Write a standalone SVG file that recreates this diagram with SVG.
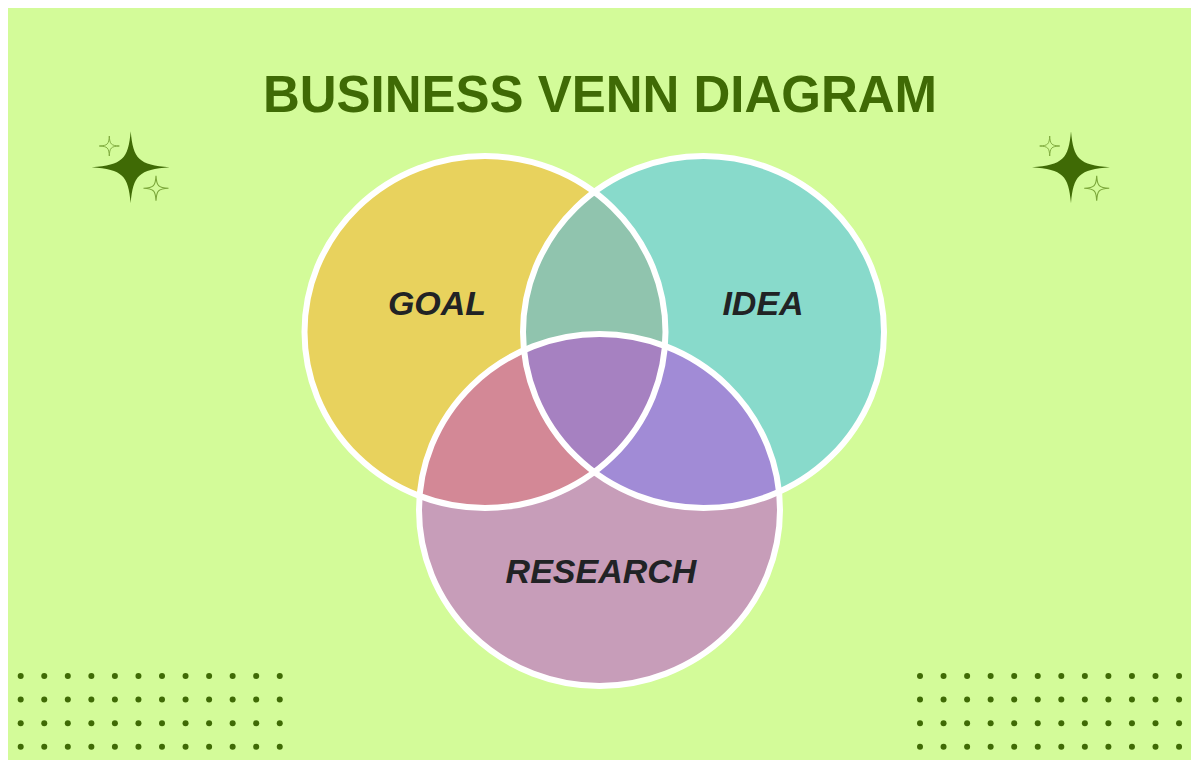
<svg xmlns="http://www.w3.org/2000/svg" width="1200" height="768" viewBox="0 0 1200 768">
  <style>
    .title { font-family: "Liberation Sans", Arial, sans-serif; font-weight: bold; font-size: 52px; fill: #3F6A05; }
    .label { font-family: "Liberation Sans", Arial, sans-serif; font-weight: bold; font-style: italic; font-size: 34px; fill: #212325; }
    .ring { fill: none; stroke: #FFFFFF; stroke-width: 6; }
    .dot { fill: #3F6A05; }
    .bigstar { fill: #3F6A05; }
    .smallstar { fill: #D3FB99; stroke: #7BA63A; stroke-width: 0.9; }
  </style>
  <defs>
    <ellipse id="eGoal" cx="485" cy="332" rx="180.5" ry="176"/>
    <ellipse id="eIdea" cx="703.5" cy="332" rx="180.5" ry="176"/>
    <ellipse id="eResearch" cx="599.5" cy="510" rx="180.5" ry="176"/>
    <clipPath id="cGoal"><use href="#eGoal"/></clipPath>
    <clipPath id="cIdea"><use href="#eIdea"/></clipPath>
    <path id="star4" d="M0,-36 C2.5,-8 8,-2.5 39,0 C8,2.5 2.5,8 0,36 C-2.5,8 -8,2.5 -39,0 C-8,-2.5 -2.5,-8 0,-36 Z"/>
    <path id="star4s" d="M0,-10 C0.4,-1.8 1.8,-0.4 10,0 C1.8,0.4 0.4,1.8 0,10 C-0.4,1.8 -1.8,0.4 -10,0 C-1.8,-0.4 -0.4,-1.8 0,-10 Z"/>
    <g id="dotrow">
      <circle class="dot" cx="0" cy="0" r="3"/>
      <circle class="dot" cx="23.55" cy="0" r="3"/>
      <circle class="dot" cx="47.1" cy="0" r="3"/>
      <circle class="dot" cx="70.65" cy="0" r="3"/>
      <circle class="dot" cx="94.2" cy="0" r="3"/>
      <circle class="dot" cx="117.75" cy="0" r="3"/>
      <circle class="dot" cx="141.3" cy="0" r="3"/>
      <circle class="dot" cx="164.85" cy="0" r="3"/>
      <circle class="dot" cx="188.4" cy="0" r="3"/>
      <circle class="dot" cx="211.95" cy="0" r="3"/>
      <circle class="dot" cx="235.5" cy="0" r="3"/>
      <circle class="dot" cx="259.05" cy="0" r="3"/>
    </g>
    <g id="dotgrid">
      <use href="#dotrow" y="0"/>
      <use href="#dotrow" y="23.6"/>
      <use href="#dotrow" y="47.2"/>
      <use href="#dotrow" y="70.8"/>
    </g>
  </defs>

  <rect x="0" y="0" width="1200" height="768" fill="#FFFFFF"/>
  <rect x="8" y="8" width="1183" height="752" fill="#D3FB99"/>

  <text class="title" x="600" y="112" text-anchor="middle" textLength="674" lengthAdjust="spacingAndGlyphs">BUSINESS VENN DIAGRAM</text>

  <g id="stars-left">
    <use href="#star4" class="bigstar" transform="translate(130.7,167.3)"/>
    <use href="#star4s" class="smallstar" transform="translate(109.3,146)"/>
    <use href="#star4s" class="smallstar" transform="translate(156,188.3) scale(1.25)"/>
  </g>
  <g id="stars-right">
    <use href="#star4" class="bigstar" transform="translate(1071,167.3)"/>
    <use href="#star4s" class="smallstar" transform="translate(1049.7,146)"/>
    <use href="#star4s" class="smallstar" transform="translate(1096.7,188.3) scale(1.25)"/>
  </g>

  <g id="dots-left"><use href="#dotgrid" x="20.7" y="676"/></g>
  <g id="dots-right"><use href="#dotgrid" x="920" y="676"/></g>

  <g id="goal">
    <use href="#eGoal" fill="#E8D25D"/>
  </g>
  <g id="idea">
    <use href="#eIdea" fill="#88DACB"/>
  </g>
  <g id="research">
    <use href="#eResearch" fill="#C79DB9"/>
  </g>
  <g id="overlaps">
    <use href="#eIdea" fill="#90C4AE" clip-path="url(#cGoal)"/>
    <use href="#eResearch" fill="#D38896" clip-path="url(#cGoal)"/>
    <use href="#eResearch" fill="#A18BD6" clip-path="url(#cIdea)"/>
    <g clip-path="url(#cIdea)">
      <use href="#eResearch" fill="#A681C1" clip-path="url(#cGoal)"/>
    </g>
  </g>
  <g id="rings">
    <use href="#eGoal" class="ring"/>
    <use href="#eIdea" class="ring"/>
    <use href="#eResearch" class="ring"/>
  </g>
  <g id="labels">
    <text class="label" x="437" y="315" text-anchor="middle">GOAL</text>
    <text class="label" x="763" y="315" text-anchor="middle">IDEA</text>
    <text class="label" x="601" y="583" text-anchor="middle">RESEARCH</text>
  </g>
</svg>
